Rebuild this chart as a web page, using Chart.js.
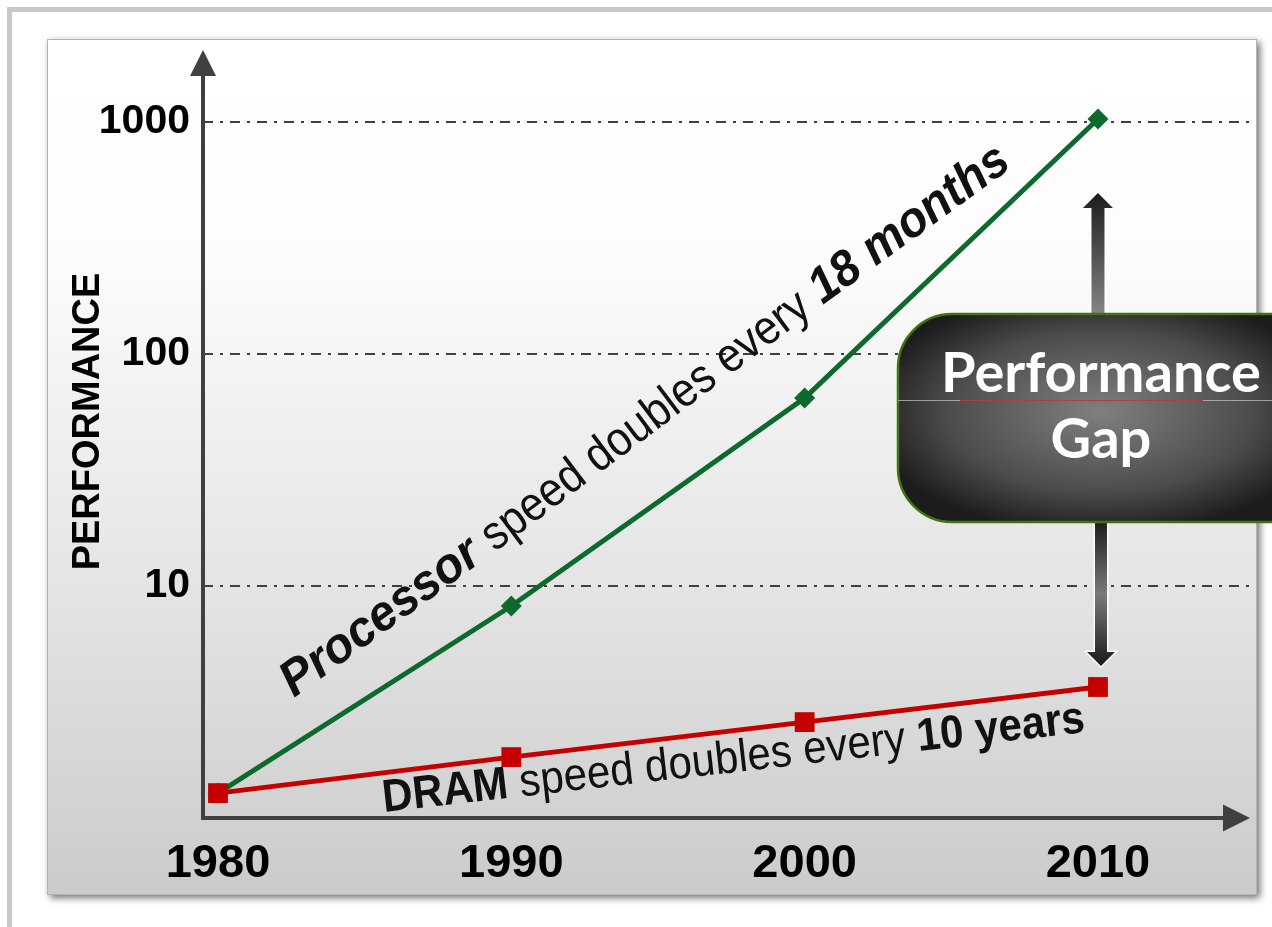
<!DOCTYPE html>
<html>
<head>
<meta charset="utf-8">
<script src="https://cdn.jsdelivr.net/npm/chart.js@4"></script>
<style>
  html, body { margin: 0; padding: 0; background: #fff; }
  canvas { display: block; }
</style>
</head>
<body>
<canvas id="perfChart" width="1272" height="927"></canvas>
<script>
const years = [1980, 1990, 2000, 2010];
const processorPerf = [1.28, 8.2, 64.6, 1030];
const dramPerf = [1.28, 1.83, 2.59, 3.67];
const yTicks = [10, 100, 1000];
const xTicks = [1980, 1990, 2000, 2010];

const FONT = "'Liberation Sans', Arial, sans-serif";
const AXIS = '#404040';
const GREEN = '#0d6a2d';
const RED = '#c40000';

function toPoints(vals) {
  return years.map((yr, i) => ({ x: yr, y: vals[i] }));
}

// panel + frame behind everything
const backdrop = {
  id: 'backdrop',
  beforeDraw(chart) {
    const ctx = chart.ctx;
    ctx.save();
    ctx.fillStyle = '#fff';
    ctx.fillRect(0, 0, chart.width, chart.height);
    ctx.strokeStyle = '#c8c8c8';
    ctx.lineWidth = 5;
    ctx.strokeRect(9.5, 9.5, chart.width + 40, chart.height + 40);

    const g = ctx.createLinearGradient(0, 39, 0, 895);
    g.addColorStop(0, '#ffffff');
    g.addColorStop(0.25, '#fcfcfc');
    g.addColorStop(0.655, '#e3e3e3');
    g.addColorStop(1, '#cbcbcb');
    ctx.shadowColor = 'rgba(0,0,0,0.55)';
    ctx.shadowBlur = 7;
    ctx.shadowOffsetX = 3;
    ctx.shadowOffsetY = 3;
    ctx.fillStyle = g;
    ctx.fillRect(47, 39, 1210, 856);
    ctx.shadowColor = 'transparent';
    ctx.strokeStyle = '#b4b4b4';
    ctx.lineWidth = 1;
    ctx.strokeRect(47.5, 39.5, 1209, 855);
    ctx.restore();
  }
};

// axis lines with arrow heads
const axes = {
  id: 'axes',
  beforeDatasetsDraw(chart) {
    const { ctx, chartArea: a, scales: { y } } = chart;
    const ox = a.left, oy = y.getPixelForValue(1);
    ctx.save();
    ctx.strokeStyle = AXIS;
    ctx.fillStyle = AXIS;
    ctx.lineWidth = 4;
    ctx.beginPath();
    ctx.moveTo(ox, oy + 2);
    ctx.lineTo(ox, 74);
    ctx.moveTo(ox - 2, oy);
    ctx.lineTo(1226, oy);
    ctx.stroke();
    ctx.beginPath();
    ctx.moveTo(ox - 13, 76);
    ctx.lineTo(ox + 13, 76);
    ctx.lineTo(ox, 50);
    ctx.closePath();
    ctx.fill();
    ctx.beginPath();
    ctx.moveTo(1223, oy - 13.5);
    ctx.lineTo(1223, oy + 13.5);
    ctx.lineTo(1250, oy);
    ctx.closePath();
    ctx.fill();
    ctx.restore();
  }
};

// text pieces chained along a baseline, each with its own angle / x-squeeze
function drawRun(ctx, x, y, pieces) {
  for (const p of pieces) {
    const r = p.angle * Math.PI / 180;
    const sx = p.sx || 1;
    ctx.save();
    ctx.translate(x, y);
    ctx.rotate(-r);
    ctx.scale(sx, 1);
    ctx.font = p.font;
    ctx.fillStyle = '#111';
    ctx.textBaseline = 'alphabetic';
    ctx.textAlign = 'left';
    ctx.fillText(p.text, 0, 0);
    const w = ctx.measureText(p.text).width * sx;
    ctx.restore();
    x += w * Math.cos(r);
    y -= w * Math.sin(r);
  }
}

function arrow(ctx, cx, yBase, yTip, shaftW, headW, headH, grad) {
  const dir = yTip < yBase ? -1 : 1;
  const yHead = yTip - dir * headH;
  ctx.beginPath();
  ctx.moveTo(cx - shaftW / 2, yBase);
  ctx.lineTo(cx - shaftW / 2, yHead);
  ctx.lineTo(cx - headW / 2, yHead);
  ctx.lineTo(cx, yTip);
  ctx.lineTo(cx + headW / 2, yHead);
  ctx.lineTo(cx + shaftW / 2, yHead);
  ctx.lineTo(cx + shaftW / 2, yBase);
  ctx.closePath();
  ctx.strokeStyle = 'rgba(255,255,255,0.95)';
  ctx.lineWidth = 3;
  ctx.lineJoin = 'miter';
  ctx.stroke();
  ctx.fillStyle = grad;
  ctx.fill();
}

const overlay = {
  id: 'overlay',
  afterDatasetsDraw(chart) {
    const { ctx, scales: { x } } = chart;
    ctx.save();

    // slanted labels along the two lines
    drawRun(ctx, 294, 698, [
      { text: 'Processor ', font: `italic bold 50px ${FONT}`, angle: 36, sx: 0.96 },
      { text: 'speed doubles every ', font: `48px ${FONT}`, angle: 37, sx: 0.9 },
      { text: '18 months', font: `italic bold 50px ${FONT}`, angle: 36, sx: 0.94 }
    ]);
    drawRun(ctx, 384, 812, [
      { text: 'DRAM ', font: `bold 46px ${FONT}`, angle: 6.5, sx: 0.915 },
      { text: 'speed doubles every ', font: `46px ${FONT}`, angle: 6.5, sx: 0.915 },
      { text: '10 years', font: `bold 46px ${FONT}`, angle: 6.5, sx: 0.915 }
    ]);

    // performance gap arrows + box
    const cx = x.getPixelForValue(2010) + 1;
    const gUp = ctx.createLinearGradient(0, 193, 0, 314);
    gUp.addColorStop(0, '#1c1c1c');
    gUp.addColorStop(1, '#858585');
    arrow(ctx, cx - 1, 316, 193, 13, 30, 15, gUp);
    const gDn = ctx.createLinearGradient(0, 522, 0, 666);
    gDn.addColorStop(0, '#1e1e1e');
    gDn.addColorStop(0.5, '#7a7a7a');
    gDn.addColorStop(1, '#1a1a1a');
    arrow(ctx, cx + 2, 520, 666, 12, 28, 14, gDn);

    const left = 898, top = 314, bot = 522, right = 1320, rad = 54;
    ctx.beginPath();
    ctx.moveTo(left + rad, top);
    ctx.lineTo(right, top);
    ctx.lineTo(right, bot);
    ctx.lineTo(left + rad, bot);
    ctx.arcTo(left, bot, left, bot - rad, rad);
    ctx.lineTo(left, top + rad);
    ctx.arcTo(left, top, left + rad, top, rad);
    ctx.closePath();
    ctx.save();
    ctx.translate(1100, 412);
    ctx.scale(1, 0.52);
    const rg = ctx.createRadialGradient(0, 0, 0, 0, 0, 235);
    rg.addColorStop(0, '#808080');
    rg.addColorStop(0.65, '#4c4c4c');
    rg.addColorStop(1, '#1c1c1c');
    ctx.fillStyle = rg;
    ctx.fill();
    ctx.restore();
    ctx.strokeStyle = '#3f7410';
    ctx.lineWidth = 2.5;
    ctx.stroke();

    ctx.fillStyle = 'rgba(200,200,200,0.7)';
    ctx.fillRect(left, 400, right - left, 1);
    ctx.fillStyle = 'rgba(170,40,40,0.8)';
    ctx.fillRect(960, 400, 243, 1);

    ctx.fillStyle = '#fff';
    ctx.textAlign = 'center';
    ctx.textBaseline = 'alphabetic';
    let size = 56;
    ctx.font = `bold ${size}px Lato, 'Open Sans', sans-serif`;
    const w = ctx.measureText('Performance').width;
    if (w > 323) size = size * 323 / w;
    ctx.font = `bold ${size}px Lato, 'Open Sans', sans-serif`;
    ctx.fillText('Performance', 1101, 392);
    ctx.fillText('Gap', 1101, 458);
    ctx.restore();
  }
};

new Chart(document.getElementById('perfChart'), {
  type: 'line',
  data: {
    datasets: [
      {
        label: 'DRAM',
        data: toPoints(dramPerf),
        borderColor: RED,
        backgroundColor: RED,
        borderWidth: 5,
        pointStyle: 'rect',
        pointRadius: 14,
        pointBorderWidth: 0,
        order: 0
      },
      {
        label: 'Processor',
        data: toPoints(processorPerf),
        borderColor: GREEN,
        backgroundColor: GREEN,
        borderWidth: 5,
        pointStyle: 'rectRot',
        pointRadius: 10.5,
        pointBorderWidth: 0,
        order: 1
      }
    ]
  },
  options: {
    responsive: false,
    animation: false,
    events: [],
    layout: { padding: { left: 60, right: 16, top: 25, bottom: 0 } },
    plugins: { legend: { display: false }, tooltip: { enabled: false } },
    scales: {
      x: {
        type: 'linear',
        min: 1979.489,
        max: 2015.387,
        afterBuildTicks: s => { s.ticks = xTicks.map(v => ({ value: v })); },
        afterFit: s => { s.height = 109; s.paddingLeft = 0; s.paddingRight = 0; },
        grid: { display: false, drawTicks: false },
        border: { display: false },
        ticks: {
          padding: 18, color: '#000', autoSkip: false, maxRotation: 0,
          font: { family: FONT, size: 47, weight: 'bold' },
          callback: v => String(v)
        }
      },
      y: {
        type: 'logarithmic',
        min: 1,
        max: 2618,
        afterBuildTicks: s => { s.ticks = yTicks.map(v => ({ value: v })); },
        afterFit: s => { s.width = 143; s.paddingTop = 0; s.paddingBottom = 0; },
        grid: { color: AXIS, lineWidth: 2, drawTicks: false },
        border: { display: false, dash: [10, 7, 3, 7] },
        ticks: {
          padding: 13, color: '#000',
          font: { family: FONT, size: 41, weight: 'bold' },
          callback: v => String(v)
        },
        title: {
          display: true, text: 'PERFORMANCE', color: '#000',
          font: { family: FONT, size: 38, weight: 'bold' },
          padding: { top: 6, bottom: 0 }
        }
      }
    }
  },
  plugins: [backdrop, axes, overlay]
});
</script>
</body>
</html>
